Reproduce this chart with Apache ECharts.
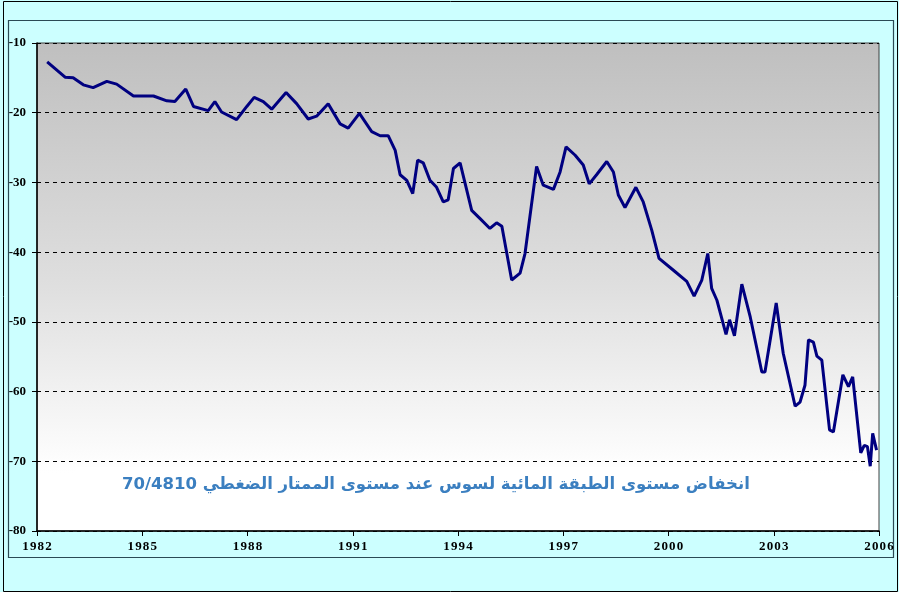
<!DOCTYPE html>
<html>
<head>
<meta charset="utf-8">
<script src="https://cdn.jsdelivr.net/npm/echarts@6/dist/echarts.min.js"></script>
<style>
  html, body { margin: 0; padding: 0; background: #ccffff; }
  #main { width: 899px; height: 592px; }
</style>
</head>
<body>
<div id="main"></div>
<script>
var chartDom = document.getElementById('main');
var myChart = echarts.init(chartDom);
var option;

// water table depth (m)
var years = [1982.29, 1982.8, 1983.03, 1983.32, 1983.6, 1983.99, 1984.27, 1984.75, 1985.32, 1985.7,
  1985.93, 1986.24, 1986.46, 1986.88, 1987.07, 1987.26, 1987.69, 1987.98, 1988.19, 1988.45,
  1988.69, 1989.1, 1989.4, 1989.73, 1989.97, 1990.3, 1990.64, 1990.87, 1991.19, 1991.54,
  1991.78, 1992.01, 1992.21, 1992.35, 1992.54, 1992.71, 1992.85, 1993.01, 1993.2, 1993.39,
  1993.58, 1993.72, 1993.87, 1994.06, 1994.39, 1994.63, 1994.91, 1995.1, 1995.25, 1995.53,
  1995.77, 1995.91, 1996.24, 1996.43, 1996.72, 1996.91, 1997.08, 1997.34, 1997.57, 1997.74,
  1997.95, 1998.24, 1998.43, 1998.57, 1998.76, 1999.07, 1999.28, 1999.52, 1999.73, 2000.14,
  2000.52, 2000.73, 2000.95, 2001.12, 2001.23, 2001.38, 2001.64, 2001.74, 2001.88, 2002.09,
  2002.33, 2002.66, 2002.75, 2003.07, 2003.27, 2003.61, 2003.75, 2003.89, 2003.99, 2004.13,
  2004.23, 2004.37, 2004.59, 2004.7, 2004.97, 2005.13, 2005.25, 2005.48, 2005.58, 2005.67,
  2005.75, 2005.82, 2005.93];
var depths = [-12.7, -14.9, -15.0, -16.0, -16.4, -15.5, -15.9, -17.6, -17.6, -18.3,
  -18.4, -16.6, -19.1, -19.7, -18.4, -19.9, -21.0, -19.1, -17.8, -18.4,
  -19.5, -17.1, -18.7, -20.9, -20.5, -18.7, -21.6, -22.2, -20.1, -22.7,
  -23.3, -23.3, -25.4, -28.9, -29.7, -31.6, -26.8, -27.2, -29.7, -30.7,
  -32.8, -32.5, -28.0, -27.2, -34.0, -35.2, -36.6, -35.8, -36.3, -44.0,
  -43.0, -40.2, -27.7, -30.4, -31.0, -28.5, -24.9, -26.1, -27.5, -30.2,
  -28.9, -27.0, -28.5, -31.8, -33.6, -30.7, -32.8, -36.8, -40.9, -42.6,
  -44.2, -46.3, -44.0, -40.2, -45.2, -46.9, -51.8, -49.7, -52.0, -44.6,
  -49.3, -57.2, -57.2, -47.3, -54.5, -62.1, -61.5, -59.1, -52.6, -52.9,
  -54.9, -55.5, -65.5, -65.8, -57.6, -59.3, -57.9, -68.8, -67.7, -67.9,
  -70.7, -66.0, -68.4];

var xMin = 1982, xMax = 2006, xStep = 3;
var yMin = -80, yMax = -10, yStep = 10;
var caption = '\u202Bانخفاض مستوى الطبقة المائية لسوس عند مستوى الممتار الضغطي 70/4810\u202C';

var seriesData = years.map(function (y, i) { return [y, depths[i]]; });

var labelFont = "'Liberation Serif', 'Times New Roman', serif";

option = {
  backgroundColor: '#ccffff',
  animation: false,
  grid: {
    left: 37,
    right: 20,
    top: 43,
    bottom: 61,
    show: true,
    borderColor: '#404040',
    borderWidth: 1,
    backgroundColor: new echarts.graphic.LinearGradient(0, 0, 0, 1, [
      { offset: 0, color: '#bfbfbf' },
      { offset: 0.5, color: '#dfdfdf' },
      { offset: 0.88, color: '#ffffff' },
      { offset: 1, color: '#ffffff' }
    ])
  },
  xAxis: {
    type: 'value',
    min: xMin,
    max: xMax,
    interval: xStep,
    axisLine: { lineStyle: { color: '#000', width: 1.5 } },
    axisTick: { show: true, length: 5, lineStyle: { color: '#000' } },
    splitLine: { show: false },
    axisLabel: {
      color: '#000',
      fontFamily: labelFont,
      fontWeight: 'bold',
      fontSize: 13,
      margin: 9,
      formatter: function (v) { return String(v).split('').join('\u200A'); }
    }
  },
  yAxis: {
    type: 'value',
    min: yMin,
    max: yMax,
    interval: yStep,
    axisLine: { show: true, lineStyle: { color: '#000', width: 1.5 } },
    axisTick: { show: true, length: 5, lineStyle: { color: '#000' } },
    splitLine: { show: true, lineStyle: { color: '#000', type: [4, 4], width: 1 } },
    axisLabel: {
      color: '#000',
      fontFamily: labelFont,
      fontWeight: 'bold',
      fontSize: 13,
      margin: 11
    }
  },
  graphic: [
    {
      type: 'rect',
      silent: true,
      z: -1,
      shape: { x: 3.5, y: 1.5, width: 894, height: 590 },
      style: { fill: null, stroke: '#000', lineWidth: 1 }
    },
    {
      type: 'rect',
      silent: true,
      z: -1,
      shape: { x: 8.5, y: 20.5, width: 885, height: 537 },
      style: { fill: null, stroke: '#2a4a55', lineWidth: 1.2 }
    },
    {
      type: 'rect',
      silent: true,
      z: 1,
      shape: { x: 76, y: 467, width: 712, height: 44 },
      style: { fill: '#ffffff' }
    },
    {
      type: 'text',
      z: 2,
      left: 122,
      top: 476,
      style: {
        text: caption,
        fill: '#3b7fc0',
        font: 'bold 16.5px "DejaVu Sans"'
      }
    }
  ],
  series: [
    {
      type: 'line',
      data: seriesData,
      showSymbol: false,
      z: 5,
      lineStyle: { color: '#000080', width: 3 }
    }
  ]
};

option && myChart.setOption(option);
</script>
</body>
</html>
